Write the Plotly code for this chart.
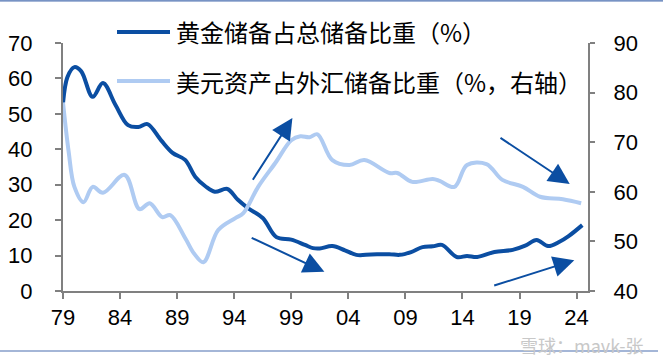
import plotly.graph_objects as go

# ---- data ----
gold_year = [1979.0, 1979.4, 1980.0, 1980.6, 1981.6, 1982.5, 1983.6, 1984.7, 1985.6, 1986.4,
             1987.6, 1988.6, 1989.7, 1990.6, 1991.5, 1992.3, 1993.4, 1994.3, 1995.2, 1996.5,
             1997.7, 1999.0, 2000.2, 2000.9, 2001.5, 2002.6, 2003.7, 2004.7, 2006.0, 2007.6,
             2008.5, 2009.5, 2010.5, 2011.4, 2012.2, 2013.5, 2014.4, 2015.3, 2016.8, 2018.4,
             2019.5, 2020.5, 2021.5, 2022.5, 2023.3, 2024.5]
gold_share = [53.0, 60.5, 63.2, 62.0, 54.8, 58.7, 52.5, 46.8, 46.3, 47.1,
              42.5, 39.0, 37.0, 32.2, 29.5, 28.0, 28.8, 25.8, 23.4, 20.6,
              15.2, 14.5, 13.0, 12.1, 12.0, 12.7, 11.5, 10.2, 10.3, 10.4,
              10.2, 11.0, 12.4, 12.6, 13.0, 9.6, 9.9, 9.6, 11.0, 11.6,
              12.8, 14.4, 12.7, 13.9, 15.5, 18.6]

usd_year = [1979.0, 1979.5, 1980.0, 1980.8, 1981.6, 1982.5, 1984.4, 1985.7, 1986.6, 1987.7,
            1988.4, 1989.7, 1990.5, 1991.3, 1992.6, 1994.1, 1994.8, 1996.1, 1997.6, 1999.0,
            1999.8, 2000.6, 2001.3, 2002.6, 2004.1, 2005.4, 2007.6, 2008.3, 2009.6, 2011.4,
            2012.0, 2013.3, 2014.4, 2016.1, 2017.5, 2019.3, 2020.8, 2022.8, 2024.4]
usd_share = [78.0, 68.0, 61.0, 57.9, 61.0, 59.8, 63.4, 56.5, 57.7, 54.9,
             55.3, 50.7, 47.5, 45.8, 52.3, 54.7, 55.7, 61.0, 65.8, 70.4,
             71.2, 71.0, 71.6, 66.4, 65.4, 66.4, 63.8, 63.8, 62.0, 62.6,
             62.2, 61.0, 65.4, 65.6, 62.4, 61.0, 59.0, 58.5, 57.7]

tick_years = [1979, 1984, 1989, 1994, 1999, 2004, 2009, 2014, 2019, 2024]
tick_labels = ["79", "84", "89", "94", "99", "04", "09", "14", "19", "24"]

name_gold = "黄金储备占总储备比重（%）"
name_usd = "美元资产占外汇储备比重（%，右轴）"

DARK = "#0B4EA2"
LIGHT = "#AFCBF2"
AXIS = "#808080"
CJK = "Noto Sans CJK SC"
LAT = "Liberation Sans, Arial"

fig = go.Figure()
fig.add_trace(go.Scatter(x=usd_year, y=usd_share, name=name_usd, yaxis="y2",
                         mode="lines", line=dict(color=LIGHT, width=4, shape="spline", smoothing=1.0),
                         showlegend=False))
fig.add_trace(go.Scatter(x=gold_year, y=gold_share, name=name_gold,
                         mode="lines", line=dict(color=DARK, width=4, shape="spline", smoothing=1.0),
                         showlegend=False))

# arrows (decorative trend markers): (tip_x, tip_y, tail_x, tail_y) on left-axis scale
arrows = [(1999.1, 48.8, 1995.55, 31.0),
          (2001.9, 5.4, 1995.4, 15.2),
          (2023.4, 30.2, 2017.2, 43.5),
          (2023.8, 8.7, 2016.65, 1.4)]
ann = []
for tx, ty, sx, sy in arrows:
    ann.append(dict(x=tx, y=ty, ax=sx, ay=sy, xref="x", yref="y", axref="x", ayref="y",
                    text="", showarrow=True, arrowhead=2, arrowsize=2.1, arrowwidth=2,
                    arrowcolor=DARK))

# manual legend
W, H, L, T = 525.0, 248.0, 63.0, 43.0
def px(xp):
    return (xp - L) / W
def py(yp):
    return 1 - (yp - T) / H

shapes = [
    dict(type="line", xref="paper", yref="paper", x0=px(117), x1=px(170), y0=py(32), y1=py(32),
         line=dict(color=DARK, width=4)),
    dict(type="line", xref="paper", yref="paper", x0=px(117), x1=px(170), y0=py(81), y1=py(81),
         line=dict(color=LIGHT, width=4)),
    dict(type="line", xref="paper", yref="paper", x0=px(0), x1=px(663), y0=py(0.8), y1=py(0.8),
         line=dict(color="#4A6FB0", width=1.2)),
    dict(type="line", xref="paper", yref="paper", x0=px(0), x1=px(658), y0=py(351), y1=py(351),
         line=dict(color="#4A6FB0", width=1.2)),
]
ann.append(dict(x=px(174), y=py(32), xref="paper", yref="paper", text=name_gold, showarrow=False,
                xanchor="left", yanchor="middle", font=dict(family=CJK, size=24, color="#000000")))
ann.append(dict(x=px(174), y=py(81), xref="paper", yref="paper", text=name_usd, showarrow=False,
                xanchor="left", yanchor="middle", font=dict(family=CJK, size=24, color="#000000")))
ann.append(dict(x=px(645), y=py(345), xref="paper", yref="paper", text="雪球：mavk-张", showarrow=False,
                xanchor="right", yanchor="middle", font=dict(family=CJK, size=18, color="#C8C8C8")))

fig.update_layout(
    width=663, height=360,
    margin=dict(l=63, r=75, t=43, b=69),
    paper_bgcolor="white", plot_bgcolor="white",
    showlegend=False,
    font=dict(family=LAT, size=22, color="#000000"),
    xaxis=dict(range=[1979, 2025], tickvals=tick_years, ticktext=tick_labels,
               showline=True, linecolor=AXIS, linewidth=2, ticks="outside", ticklen=6,
               tickcolor=AXIS, tickwidth=2, showgrid=False, zeroline=False,
               tickfont=dict(family=LAT, size=22), ticklabelstandoff=0, automargin=False),
    yaxis=dict(range=[0, 70], dtick=10, showline=True, linecolor=AXIS, linewidth=2,
               ticks="outside", ticklen=6, tickcolor=AXIS, tickwidth=2, showgrid=False,
               zeroline=False, tickfont=dict(family=LAT, size=22), ticklabelstandoff=18,
               automargin=False),
    yaxis2=dict(range=[40, 90], dtick=10, overlaying="y", side="right", showline=True,
                linecolor=AXIS, linewidth=2, ticks="outside", ticklen=5, tickcolor=AXIS,
                tickwidth=2, showgrid=False, zeroline=False,
                tickfont=dict(family=LAT, size=22), ticklabelstandoff=14, automargin=False),
    shapes=shapes,
    annotations=ann,
)

fig.write_html("out.html", config={"displayModeBar": False},
               post_script="document.body.style.margin='0';document.body.style.padding='0';")
